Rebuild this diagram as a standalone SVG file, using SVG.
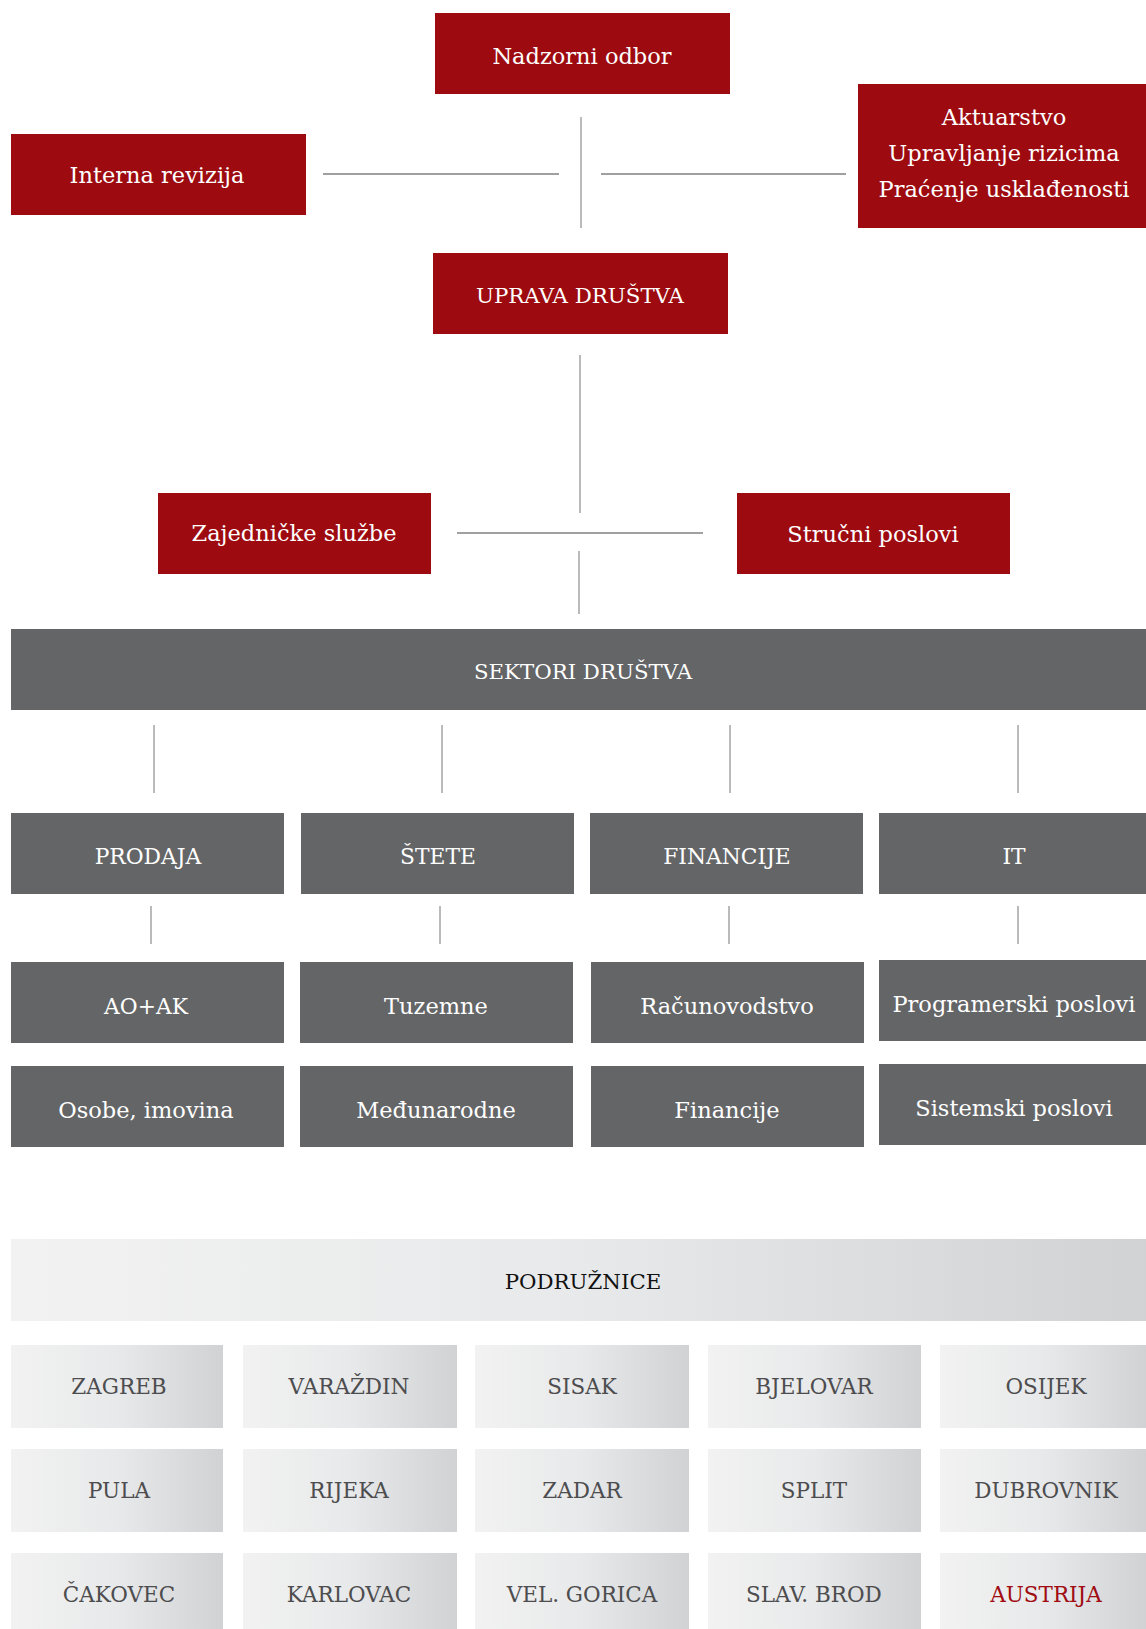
<svg xmlns="http://www.w3.org/2000/svg" width="1146" height="1629" viewBox="0 0 1146 1629">
<defs>
<linearGradient id="g" x1="0" y1="0" x2="1" y2="0">
<stop offset="0" stop-color="#f2f2f2"/>
<stop offset="0.5" stop-color="#e8e9ea"/>
<stop offset="1" stop-color="#d1d2d4"/>
</linearGradient>
<style>
.r{fill:#9d0b10}
.d{fill:#646567}
.l{fill:url(#g)}
text{font-family:"DejaVu Serif","Liberation Serif",serif;font-size:22.5px;text-anchor:middle}
.u{font-size:21.8px}
.s{font-size:21.3px}
.w{fill:#ffffff}
.k{fill:#111111}
.c{fill:#4d4d4f;font-size:21.5px}
.a{fill:#a00c12;font-size:21.5px}
.ln{stroke:#a3a3a3;stroke-width:1.5;fill:none}
.lh{stroke:#a0a0a0;stroke-width:2;fill:none}
</style>
</defs>
<rect width="1146" height="1629" fill="#ffffff"/>
<g id="connectors">
<line class="ln" x1="581" y1="117" x2="581" y2="228"/>
<line class="lh" x1="323" y1="174" x2="559" y2="174"/>
<line class="lh" x1="601" y1="174" x2="846" y2="174"/>
<line class="ln" x1="580" y1="355" x2="580" y2="513"/>
<line class="lh" x1="457" y1="533" x2="703" y2="533"/>
<line class="ln" x1="579" y1="551" x2="579" y2="614"/>
<line class="ln" x1="154" y1="725" x2="154" y2="793"/>
<line class="ln" x1="442" y1="725" x2="442" y2="793"/>
<line class="ln" x1="730" y1="725" x2="730" y2="793"/>
<line class="ln" x1="1018" y1="725" x2="1018" y2="793"/>
<line class="ln" x1="151" y1="906" x2="151" y2="944"/>
<line class="ln" x1="440" y1="906" x2="440" y2="944"/>
<line class="ln" x1="729" y1="906" x2="729" y2="944"/>
<line class="ln" x1="1018" y1="906" x2="1018" y2="944"/>
</g>
<g id="nadzorni"><rect class="r" x="435" y="13" width="295" height="81"/><text class="w" x="582" y="64">Nadzorni odbor</text></g>
<g id="interna"><rect class="r" x="11" y="134" width="295" height="81"/><text class="w" x="157" y="183">Interna revizija</text></g>
<g id="aktuarstvo"><rect class="r" x="858" y="84" width="288" height="144"/>
<text class="w" x="1004" y="125">Aktuarstvo</text>
<text class="w" x="1004" y="161">Upravljanje rizicima</text>
<text class="w" x="1004" y="197">Praćenje usklađenosti</text></g>
<g id="uprava"><rect class="r" x="433" y="253" width="295" height="81"/><text class="w s" x="580" y="303">UPRAVA DRUŠTVA</text></g>
<g id="zajednicke"><rect class="r" x="158" y="493" width="273" height="81"/><text class="w" x="294" y="541">Zajedničke službe</text></g>
<g id="strucni"><rect class="r" x="737" y="493" width="273" height="81"/><text class="w" x="873" y="542">Stručni poslovi</text></g>
<g id="sektori"><rect class="d" x="11" y="629" width="1135" height="81"/><text class="w s" x="583" y="679">SEKTORI DRUŠTVA</text></g>
<g id="prodaja"><rect class="d" x="11" y="813" width="273" height="81"/><text class="w u" x="148" y="864">PRODAJA</text></g>
<g id="stete"><rect class="d" x="301" y="813" width="273" height="81"/><text class="w u" x="438" y="864">ŠTETE</text></g>
<g id="financije"><rect class="d" x="590" y="813" width="273" height="81"/><text class="w u" x="727" y="864">FINANCIJE</text></g>
<g id="it"><rect class="d" x="879" y="813" width="267" height="81"/><text class="w u" x="1014" y="864">IT</text></g>
<g id="aoak"><rect class="d" x="11" y="962" width="273" height="81"/><text class="w u" x="146" y="1014">AO+AK</text></g>
<g id="tuzemne"><rect class="d" x="300" y="962" width="273" height="81"/><text class="w" x="436" y="1014">Tuzemne</text></g>
<g id="racunovodstvo"><rect class="d" x="591" y="962" width="273" height="81"/><text class="w" x="727" y="1014">Računovodstvo</text></g>
<g id="programerski"><rect class="d" x="879" y="960" width="267" height="81"/><text class="w" x="1014" y="1012">Programerski poslovi</text></g>
<g id="osobe"><rect class="d" x="11" y="1066" width="273" height="81"/><text class="w" x="146" y="1118">Osobe, imovina</text></g>
<g id="medunarodne"><rect class="d" x="300" y="1066" width="273" height="81"/><text class="w" x="436" y="1118">Međunarodne</text></g>
<g id="financije2"><rect class="d" x="591" y="1066" width="273" height="81"/><text class="w" x="727" y="1118">Financije</text></g>
<g id="sistemski"><rect class="d" x="879" y="1064" width="267" height="81"/><text class="w" x="1014" y="1116">Sistemski poslovi</text></g>
<g id="podruznice"><rect class="l" x="11" y="1239" width="1135" height="82"/><text class="k s" x="583" y="1289">PODRUŽNICE</text></g>
<g id="zagreb"><rect class="l" x="11" y="1345" width="212" height="83"/><text class="c" x="119" y="1394">ZAGREB</text></g>
<g id="varazdin"><rect class="l" x="243" y="1345" width="214" height="83"/><text class="c" x="349" y="1394">VARAŽDIN</text></g>
<g id="sisak"><rect class="l" x="475" y="1345" width="214" height="83"/><text class="c" x="582" y="1394">SISAK</text></g>
<g id="bjelovar"><rect class="l" x="708" y="1345" width="213" height="83"/><text class="c" x="814" y="1394">BJELOVAR</text></g>
<g id="osijek"><rect class="l" x="940" y="1345" width="206" height="83"/><text class="c" x="1046" y="1394">OSIJEK</text></g>
<g id="pula"><rect class="l" x="11" y="1449" width="212" height="83"/><text class="c" x="119" y="1498">PULA</text></g>
<g id="rijeka"><rect class="l" x="243" y="1449" width="214" height="83"/><text class="c" x="349" y="1498">RIJEKA</text></g>
<g id="zadar"><rect class="l" x="475" y="1449" width="214" height="83"/><text class="c" x="582" y="1498">ZADAR</text></g>
<g id="split"><rect class="l" x="708" y="1449" width="213" height="83"/><text class="c" x="814" y="1498">SPLIT</text></g>
<g id="dubrovnik"><rect class="l" x="940" y="1449" width="206" height="83"/><text class="c" x="1046" y="1498">DUBROVNIK</text></g>
<g id="cakovec"><rect class="l" x="11" y="1553" width="212" height="83"/><text class="c" x="119" y="1602">ČAKOVEC</text></g>
<g id="karlovac"><rect class="l" x="243" y="1553" width="214" height="83"/><text class="c" x="349" y="1602">KARLOVAC</text></g>
<g id="velgorica"><rect class="l" x="475" y="1553" width="214" height="83"/><text class="c" x="582" y="1602">VEL. GORICA</text></g>
<g id="slavbrod"><rect class="l" x="708" y="1553" width="213" height="83"/><text class="c" x="814" y="1602">SLAV. BROD</text></g>
<g id="austrija"><rect class="l" x="940" y="1553" width="206" height="83"/><text class="a" x="1046" y="1602">AUSTRIJA</text></g>
</svg>
